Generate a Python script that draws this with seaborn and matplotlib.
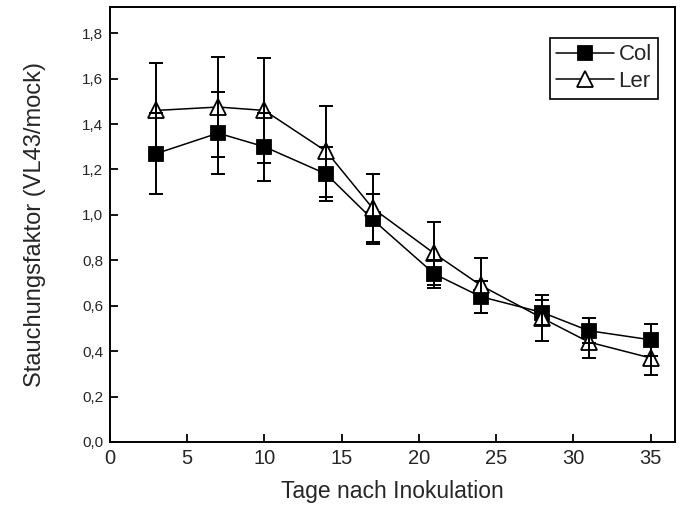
import numpy as np
import pandas as pd
import matplotlib
matplotlib.use("Agg")
import matplotlib.pyplot as plt
import seaborn as sns
from matplotlib.ticker import FuncFormatter

days = [3, 7, 10, 14, 17, 21, 24, 28, 31, 35]
col_mean = [1.27, 1.36, 1.30, 1.18, 0.98, 0.74, 0.64, 0.57, 0.49, 0.45]
col_err = [0.18, 0.18, 0.15, 0.12, 0.11, 0.06, 0.07, 0.055, 0.055, 0.07]
ler_mean = [1.46, 1.475, 1.46, 1.28, 1.03, 0.83, 0.69, 0.545, 0.44, 0.37]
ler_err = [0.21, 0.22, 0.23, 0.20, 0.15, 0.14, 0.12, 0.10, 0.07, 0.075]

x_ticks = [0, 5, 10, 15, 20, 25, 30, 35]
y_ticks = [0.0, 0.2, 0.4, 0.6, 0.8, 1.0, 1.2, 1.4, 1.6, 1.8]

sns.set_style("ticks")
plt.rcParams["font.family"] = ["Liberation Sans", "DejaVu Sans"]

df = pd.DataFrame({
    "Tag": days * 2,
    "Wert": col_mean + ler_mean,
    "Fehler": col_err + ler_err,
    "Linie": ["Col"] * len(days) + ["Ler"] * len(days),
})

fig = plt.figure(figsize=(6.81, 5.08), dpi=100)
ax = fig.add_axes([0.1615, 0.13, 0.830, 0.856])

styles = {
    "Col": dict(marker="s", markerfacecolor="black", markersize=10.5),
    "Ler": dict(marker="^", markerfacecolor="white", markersize=11.5),
}

for name in ["Col", "Ler"]:
    sub = df[df["Linie"] == name]
    ax.errorbar(sub["Tag"], sub["Wert"], yerr=sub["Fehler"], fmt="none",
                ecolor="black", elinewidth=1.4, capsize=5, capthick=1.4, zorder=4)
    sns.lineplot(data=sub, x="Tag", y="Wert", ax=ax, color="black", linewidth=1.1,
                 markeredgecolor="black", markeredgewidth=1.3, label=name,
                 zorder=3, **styles[name])

ax.set_xlim(0, 36.6)
ax.set_ylim(0, 1.915)
ax.set_xticks(x_ticks)
ax.set_yticks(y_ticks)
ax.yaxis.set_major_formatter(FuncFormatter(lambda v, p: f"{v:.1f}".replace(".", ",")))
ax.tick_params(direction="in", length=6, width=1.3, color="black")
ax.tick_params(axis="x", labelsize=14.5, pad=5)
ax.tick_params(axis="y", labelsize=11, pad=5)
for s in ax.spines.values():
    s.set_linewidth(1.4)
    s.set_color("black")

ax.set_xlabel("Tage nach Inokulation", fontsize=16.5, labelpad=9)
ax.set_ylabel("Stauchungsfaktor (VL43/mock)", fontsize=17, labelpad=26)

leg = ax.legend(loc="upper right", bbox_to_anchor=(0.99, 0.955), fontsize=16,
                frameon=True, fancybox=False, edgecolor="black", framealpha=1,
                handlelength=2.6, handletextpad=0.2, borderpad=0.3, labelspacing=0.25)
leg.get_frame().set_linewidth(1.2)

fig.savefig("out.png", dpi=100)
